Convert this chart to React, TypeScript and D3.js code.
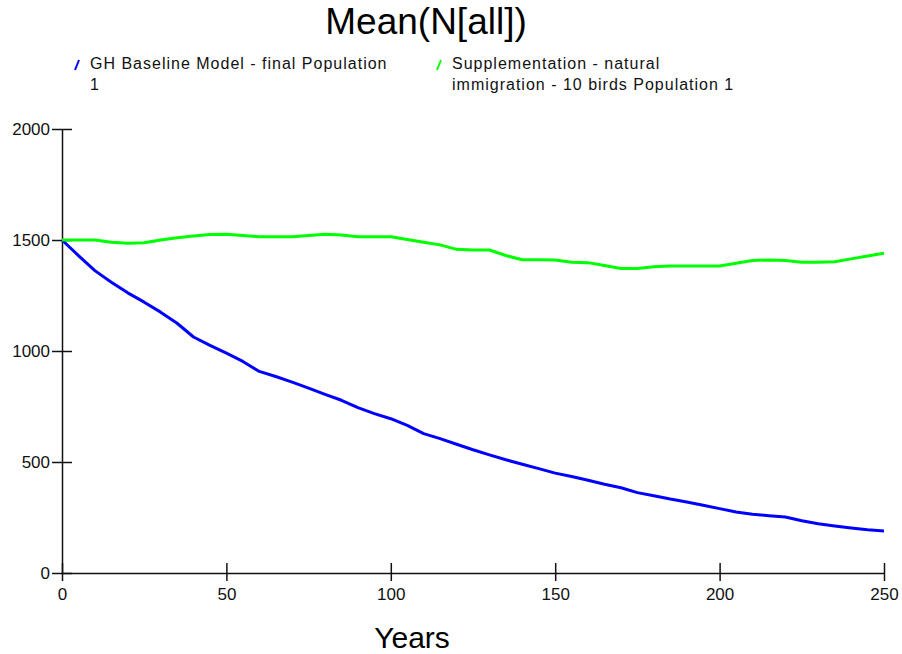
import React from "react";
import * as d3 from "d3";

const years = d3.range(0, 251, 5);

const baseline = [
    1500, 1430, 1362, 1310, 1262, 1220, 1175, 1125, 1063, 1025, 990, 953, 908, 885, 860, 833, 805,
    778, 745, 718, 695, 665, 628, 605, 580, 555, 532, 510, 490, 470, 450, 435, 418, 400, 384, 362,
    348, 333, 320, 305, 290, 275, 265, 258, 252, 235, 222, 212, 203, 195, 189,
];

const supplementation = [
    1500, 1500, 1500, 1490, 1485, 1488, 1500, 1510, 1518, 1525, 1526, 1520, 1515, 1515, 1515, 1520,
    1526, 1522, 1515, 1515, 1515, 1502, 1490, 1478, 1458, 1455, 1455, 1430, 1411, 1411, 1410, 1400,
    1398, 1385, 1372, 1372, 1380, 1383, 1383, 1383, 1383, 1395, 1408, 1410, 1408, 1400, 1400, 1402,
    1415, 1428, 1440,
];

const seriesNames = [
    ["GH Baseline Model - final Population", "1"],
    ["Supplementation - natural", "immigration - 10 birds Population 1"],
];
const seriesColors = ["#0000ff", "#00ff00"];
const xTicks = [0, 50, 100, 150, 200, 250];
const yTicks = [0, 500, 1000, 1500, 2000];

const width = 902;
const height = 654;
const margin = { left: 62, right: 18, top: 129, bottom: 81 };

const App = () => {
    const svgRef = React.useRef(null);

    React.useEffect(() => {
        const xScale = d3.scaleLinear().domain([0, 250]).range([margin.left, width - margin.right]);
        const yScale = d3.scaleLinear().domain([0, 2000]).range([height - margin.bottom, margin.top]);

        const svg = d3.select(svgRef.current);
        svg.selectAll("*").remove();
        const font = "Arial, 'Liberation Sans', sans-serif";

        // title
        svg.append("text")
            .attr("x", 426)
            .attr("y", 34)
            .attr("text-anchor", "middle")
            .attr("font-family", font)
            .attr("font-size", 37)
            .text("Mean(N[all])");

        // legend
        const legendX = [75, 437];
        seriesNames.forEach((lines, i) => {
            const g = svg.append("g").attr("transform", `translate(${legendX[i]},0)`);
            g.append("line")
                .attr("x1", 0).attr("y1", 70).attr("x2", 4).attr("y2", 60)
                .attr("stroke", seriesColors[i])
                .attr("stroke-width", 2);
            lines.forEach((t, j) => {
                g.append("text")
                    .attr("x", 15)
                    .attr("y", 69 + j * 21)
                    .attr("font-family", font)
                    .attr("font-size", 16)
                    .attr("letter-spacing", 1)
                    .attr("fill", "#111")
                    .text(t);
            });
        });

        // axes
        const xAxis = svg.append("g")
            .attr("transform", `translate(0,${yScale(0)})`)
            .call(d3.axisBottom(xScale).tickValues(xTicks).tickSize(8).tickSizeOuter(0));
        xAxis.selectAll("line").attr("y1", -10).attr("y2", 8);
        xAxis.selectAll("text")
            .attr("y", 15)
            .attr("font-family", font)
            .attr("font-size", 17)
            .attr("fill", "#111");

        const yAxis = svg.append("g")
            .attr("transform", `translate(${xScale(0)},0)`)
            .call(
                d3.axisLeft(yScale)
                    .tickValues(yTicks)
                    .tickFormat(d3.format("d"))
                    .tickSize(10)
                    .tickSizeOuter(0)
            );
        yAxis.selectAll("line").attr("x1", -10).attr("x2", 10);
        yAxis.selectAll(".tick text")
            .attr("x", -12)
            .attr("font-family", font)
            .attr("font-size", 17)
            .attr("fill", "#111");
        svg.selectAll(".domain").attr("stroke", "#111").attr("stroke-width", 1.5);
        svg.selectAll(".tick line").attr("stroke", "#111").attr("stroke-width", 1.5);

        // axis title
        svg.append("text")
            .attr("x", 412)
            .attr("y", 648)
            .attr("text-anchor", "middle")
            .attr("font-family", font)
            .attr("font-size", 30)
            .text("Years");

        // lines
        const line = d3.line<number>()
            .x((d, i) => xScale(years[i]))
            .y((d) => yScale(d));
        [baseline, supplementation].forEach((values, i) => {
            svg.append("path")
                .attr("fill", "none")
                .attr("stroke", seriesColors[i])
                .attr("stroke-width", 3)
                .attr("stroke-linejoin", "round")
                .attr("d", line(values));
        });
    }, []);

    return (
        <svg
            ref={svgRef}
            width={width}
            height={height}
            style={{ position: "absolute", left: 0, top: 0, background: "#fff" }}
        />
    );
};

export default App;
